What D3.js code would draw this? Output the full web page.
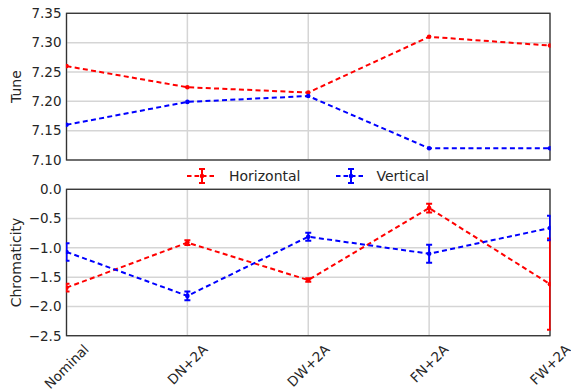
<!DOCTYPE html>
<html><head><meta charset="utf-8">
<script src="https://cdn.jsdelivr.net/npm/d3@7"></script>
<style>body{margin:0;background:#fff;} svg{display:block;font-family:"DejaVu Sans",sans-serif;}</style>
</head><body>
<svg id="c" width="571" height="389"></svg>
<script>
const categories = ["Nominal","DN+2A","DW+2A","FN+2A","FW+2A"];
const tuneH = [7.26, 7.224, 7.215, 7.31, 7.295];
const tuneV = [7.16, 7.199, 7.209, 7.12, 7.12];
const chromH = [-1.68, -0.91, -1.55, -0.32, -1.62];
const chromHErr = [0.065, 0.04, 0.03, 0.075, 0.78];
const chromV = [-1.07, -1.82, -0.81, -1.10, -0.66];
const chromVErr = [0.15, 0.075, 0.07, 0.155, 0.21];
const tuneTicks = [7.10, 7.15, 7.20, 7.25, 7.30, 7.35];
const chromTicks = [0.0, -0.5, -1.0, -1.5, -2.0, -2.5];
const seriesNames = ["Horizontal","Vertical"];
const colors = ["#ff0000","#0000ff"];

const svg = d3.select("#c");
const L = 66.5, R = 550;
const x = d3.scalePoint().domain(categories).range([L, R]).padding(0);
const fs = 13.5;
const textCol = "#262626";

function panel(top, bottom, domain, ticks, fmt, label, series, id) {
  const y = d3.scaleLinear().domain(domain).range([bottom, top]);
  const g = svg.append("g");
  g.append("clipPath").attr("id", id).append("rect")
    .attr("x", L - 0.6).attr("y", top - 0.6).attr("width", R - L + 1.2).attr("height", bottom - top + 1.2);
  // grid
  g.selectAll(".gx").data(categories).enter().append("line")
    .attr("x1", d => x(d)).attr("x2", d => x(d)).attr("y1", top).attr("y2", bottom)
    .attr("stroke", "#d5d5d5").attr("stroke-width", 1.5);
  g.selectAll(".gy").data(ticks).enter().append("line")
    .attr("x1", L).attr("x2", R).attr("y1", d => y(d)).attr("y2", d => y(d))
    .attr("stroke", "#d5d5d5").attr("stroke-width", 1.5);
  // y axis
  const ax = d3.axisLeft(y).tickValues(ticks).tickSize(0).tickPadding(5)
    .tickFormat(d => fmt(d).replace("-", "\u2212"));
  const ag = g.append("g").attr("transform", `translate(${L},0)`).call(ax);
  ag.select(".domain").remove();
  ag.selectAll("text").attr("font-size", fs).attr("fill", textCol).attr("font-family", "DejaVu Sans");
  // label
  g.append("text").attr("transform", `translate(21,${(top + bottom) / 2}) rotate(-90)`)
    .attr("text-anchor", "middle").attr("font-size", 14).attr("fill", textCol).text(label);
  // frame
  g.append("rect").attr("x", L).attr("y", top).attr("width", R - L).attr("height", bottom - top)
    .attr("fill", "none").attr("stroke", "#333").attr("stroke-width", 1.3);
  // series
  const pg = g.append("g").attr("clip-path", `url(#${id})`);
  series.forEach((s, si) => {
    const line = d3.line().x((d, i) => x(categories[i])).y(d => y(d));
    pg.append("path").attr("d", line(s.v)).attr("fill", "none")
      .attr("stroke", colors[si]).attr("stroke-width", 2).attr("stroke-dasharray", "5,3.3");
    if (s.e) {
      s.v.forEach((v, i) => {
        const cx = x(categories[i]);
        pg.append("line").attr("x1", cx).attr("x2", cx).attr("y1", y(v - s.e[i])).attr("y2", y(v + s.e[i]))
          .attr("stroke", colors[si]).attr("stroke-width", 2);
        [v - s.e[i], v + s.e[i]].forEach(c => {
          pg.append("line").attr("x1", cx - 3).attr("x2", cx + 3).attr("y1", y(c)).attr("y2", y(c))
            .attr("stroke", colors[si]).attr("stroke-width", 2);
        });
      });
    }
    pg.selectAll(null).data(s.v).enter().append("circle")
      .attr("cx", (d, i) => x(categories[i])).attr("cy", d => y(d)).attr("r", 2.3).attr("fill", colors[si]);
  });
  return y;
}

panel(13.3, 160, [7.10, 7.35], tuneTicks, d3.format(".2f"), "Tune",
  [{v: tuneH}, {v: tuneV}], "clip1");
panel(189.3, 335.7, [-2.5, 0.0], chromTicks, d3.format(".1f"), "Chromaticity",
  [{v: chromH, e: chromHErr}, {v: chromV, e: chromVErr}], "clip2");

// x labels
categories.forEach(c => {
  const t = svg.append("text").attr("font-size", fs).attr("fill", textCol)
    .attr("text-anchor", "middle").attr("dominant-baseline", "central").text(c);
  const w = t.node().getComputedTextLength();
  const h = (w + fs * 1.0) * Math.SQRT1_2;
  t.attr("transform", `translate(${x(c)},${342 + h / 2}) rotate(-45)`);
});

// legend
const legY = 176;
const leg = [{x0: 187, tx: 229}, {x0: 336, tx: 376.5}];
leg.forEach((l, i) => {
  const g = svg.append("g");
  g.append("line").attr("x1", l.x0).attr("x2", l.x0 + 30).attr("y1", legY).attr("y2", legY)
    .attr("stroke", colors[i]).attr("stroke-width", 2).attr("stroke-dasharray", "4.5,3");
  const cx = l.x0 + 15;
  g.append("line").attr("x1", cx).attr("x2", cx).attr("y1", legY - 7).attr("y2", legY + 7)
    .attr("stroke", colors[i]).attr("stroke-width", 2);
  [legY - 7, legY + 7].forEach(yy => g.append("line").attr("x1", cx - 3).attr("x2", cx + 3)
    .attr("y1", yy).attr("y2", yy).attr("stroke", colors[i]).attr("stroke-width", 2));
  g.append("circle").attr("cx", cx).attr("cy", legY).attr("r", 2.3).attr("fill", colors[i]);
  g.append("text").attr("x", l.tx).attr("y", legY).attr("dominant-baseline", "central")
    .attr("font-size", 14).attr("fill", textCol).text(seriesNames[i]);
});
</script>
</body></html>
